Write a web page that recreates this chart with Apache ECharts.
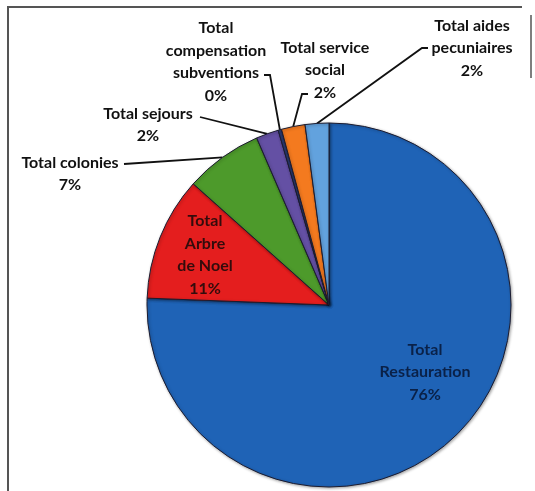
<!DOCTYPE html>
<html>
<head>
<meta charset="utf-8">
<script src="https://cdn.jsdelivr.net/npm/echarts@6/dist/echarts.min.js"></script>
<style>html,body{margin:0;padding:0;background:#fff}#c{width:535px;height:491px}</style>
</head>
<body>
<div id="c"></div>
<script>
// Data
const categories = ['Total Restauration', 'Total Arbre de Noel', 'Total colonies', 'Total sejours', 'Total compensation subventions', 'Total service social', 'Total aides pecuniaires'];
const labelTexts = ['Total\nRestauration', 'Total\nArbre\nde Noel', 'Total colonies', 'Total sejours', 'Total\ncompensation\nsubventions', 'Total service\nsocial', 'Total aides\npecuniaires'];
const values = [75.6, 11.0, 6.9, 2.0, 0.3, 2.1, 2.1];

// Styling
const colors = ['#1f63b6', '#e41e1e', '#4d9a2b', '#6450a4', '#2c3d78', '#f47a1f', '#62a2de'];
const labelPos = [
  {x: 425, y: 372, inside: true, color: '#0a2148'},
  {x: 205, y: 255, inside: true, color: '#330c0c'},
  {x: 70, y: 174, line: [[124, 164]]},
  {x: 148, y: 125, line: [[200, 117]]},
  {x: 216, y: 62, line: [[270, 75], [264, 75]]},
  {x: 325, y: 70, line: [[302, 94], [308, 94]]},
  {x: 472, y: 48, line: [[422, 48], [428, 48]]}
];

const data = categories.map((c, i) => ({
  name: c,
  value: values[i],
  itemStyle: {color: colors[i]},
  label: {
    position: labelPos[i].inside ? 'inside' : 'outside',
    color: labelPos[i].color || '#111',
    formatter: function (p) { return labelTexts[i] + '\n' + p.percent + '%'; }
  },
  labelLine: {show: !labelPos[i].inside}
}));

const chart = echarts.init(document.getElementById('c'), null, {renderer: 'canvas'});
chart.setOption({
  animation: false,
  backgroundColor: '#ffffff',
  graphic: [
    {type: 'polyline', shape: {points: [[8, 495], [8, 7], [522, 7]]}, style: {stroke: '#555', lineWidth: 2, fill: null}},
    {type: 'line', shape: {x1: 531, y1: 15, x2: 531, y2: 78}, style: {stroke: '#555', lineWidth: 1.5}}
  ],
  series: [{
    type: 'pie',
    center: [329, 305],
    radius: [0, 182],
    startAngle: 90,
    clockwise: true,
    percentPrecision: 0,
    avoidLabelOverlap: false,
    itemStyle: {borderColor: '#1c1c30', borderWidth: 1, shadowBlur: 3, shadowColor: 'rgba(0,0,0,0.35)', shadowOffsetX: 1, shadowOffsetY: 1},
    label: {
      fontFamily: 'Lato', fontWeight: 'bold', fontSize: 16, lineHeight: 22.5, align: 'center'
    },
    labelLine: {lineStyle: {color: '#111', width: 1.8}, length: 10, length2: 10},
    emphasis: {disabled: true},
    labelLayout: function (p) {
      const L = labelPos[p.dataIndex];
      const out = {x: L.x, y: L.y, align: 'center', verticalAlign: 'middle'};
      if (L.line && p.labelLinePoints) {
        out.labelLinePoints = [p.labelLinePoints[0]].concat(L.line);
      }
      return out;
    },
    data: data
  }]
});
</script>
</body>
</html>
